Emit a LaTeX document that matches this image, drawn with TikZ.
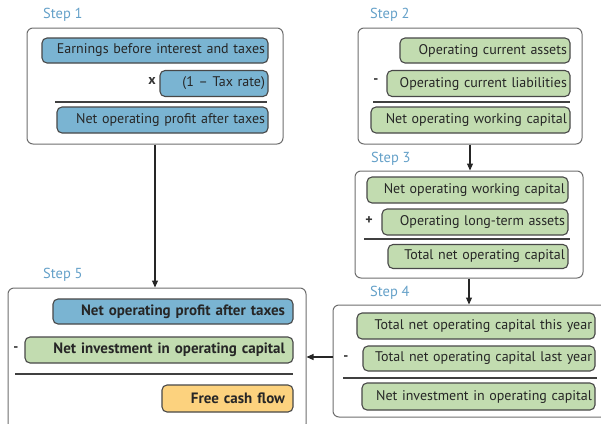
\documentclass[tikz,border=0pt]{standalone}
\usepackage{fontspec}
\setmainfont{PT Sans}
\usetikzlibrary{arrows.meta,calc}
\definecolor{pblue}{RGB}{122,180,210}
\definecolor{pgreen}{RGB}{194,220,176}
\definecolor{porange}{RGB}{252,210,126}
\definecolor{pborder}{RGB}{72,72,72}
\definecolor{boxborder}{RGB}{110,110,110}
\definecolor{steplbl}{RGB}{100,160,200}
\tikzset{
  pill/.style={draw=pborder, line width=1.1pt, rounded corners=5pt, inner xsep=3pt, inner ysep=0pt,
    minimum height=25pt, align=right, font=\fontsize{14}{16}\selectfont, text=black!85},
  boldpill/.style={pill, inner xsep=8pt, font=\fontsize{15}{17}\selectfont\bfseries},
  stepbox/.style={draw=boxborder, line width=1pt, rounded corners=6pt, fill=white, inner sep=0pt},
  steplabel/.style={anchor=west, inner sep=0pt, text=steplbl, font=\fontsize{14.5}{16}\selectfont},
  oper/.style={inner sep=0pt, font=\fontsize{14}{16}\selectfont\bfseries, text=black!80},
  sepline/.style={draw=black!75, line width=1.6pt},
  arr/.style={draw=black!85, line width=1.1pt, -{Triangle[length=7pt,width=6pt]}}
}
\begin{document}
\begin{tikzpicture}[x=1pt,y=-1pt]
\useasboundingbox (0,0) rectangle (601,423);
\clip (0,0) rectangle (601,423);
% step boxes
\node[stepbox, minimum width=256pt, minimum height=116pt] (b1) at (155,86) {};
\node[stepbox, minimum width=224pt, minimum height=116pt] (b2) at (470,86) {};
\node[stepbox, minimum width=228pt, minimum height=107pt] (b3) at (469,224.5) {};
\node[stepbox, minimum width=277pt, minimum height=112pt] (b4) at (471.5,361) {};
\node[stepbox, minimum width=298pt, minimum height=142pt] (b5) at (157,359) {};
% labels
\node[steplabel] (l1) at (43,15) {Step 1};
\node[steplabel] (l2) at (370,15) {Step 2};
\node[steplabel] (l3) at (371,159) {Step 3};
\node[steplabel] (l4) at (370,293) {Step 4};
\node[steplabel] (l5) at (43,275) {Step 5};
% step 1
\node[pill, fill=pblue, text width=220pt] (e1) at (155,50.5) {\mbox{Earnings before interest and taxes}};
\node[pill, fill=pblue, text width=102pt, minimum height=26pt] (e2) at (214,83.5) {\mbox{(1 -- Tax rate)}};
\node[pill, fill=pblue, text width=205pt, minimum height=26pt] (e3) at (162.5,120) {\mbox{Net operating profit after taxes}};
\node[oper] (o1) at (152,81) {x};
\coordinate (s1a) at (55,102); \coordinate (s1b) at (267,102);
\draw[sepline] (s1a) -- (s1b);
% step 2
\node[pill, fill=pgreen, text width=164pt] (a1) at (485,50.5) {\mbox{Operating current assets}};
\node[pill, fill=pgreen, text width=177pt, minimum height=26pt] (a2) at (478.5,83.5) {\mbox{Operating current liabilities}};
\node[pill, fill=pgreen, text width=193pt, minimum height=26pt] (a3) at (470.5,120) {\mbox{Net operating working capital}};
\node[oper] (o2) at (376,81) {-};
\coordinate (s2a) at (373,102); \coordinate (s2b) at (570,102);
\draw[sepline] (s2a) -- (s2b);
% step 3
\node[pill, fill=pgreen, text width=195pt, minimum height=26pt] (c1) at (467.5,190) {\mbox{Net operating working capital}};
\node[pill, fill=pgreen, text width=180pt, minimum height=26pt] (c2) at (475,222) {\mbox{Operating long-term assets}};
\node[pill, fill=pgreen, text width=174pt, minimum height=24pt] (c3) at (478,256.5) {\mbox{Total net operating capital}};
\node[oper] (o3) at (369,221) {+};
\coordinate (s3a) at (364,239); \coordinate (s3b) at (570,239);
\draw[sepline] (s3a) -- (s3b);
% step 4
\node[pill, fill=pgreen, text width=232pt, minimum height=26pt] (d1) at (476,326) {\mbox{Total net operating capital this year}};
\node[pill, fill=pgreen, text width=226pt] (d2) at (479,358.5) {\mbox{Total net operating capital last year}};
\node[pill, fill=pgreen, text width=227pt, minimum height=27pt] (d3) at (478.5,396.5) {\mbox{Net investment in operating capital}};
\node[oper] (o4) at (346,358) {-};
\coordinate (s4a) at (343,378); \coordinate (s4b) at (597,378);
\draw[sepline] (s4a) -- (s4b);
% step 5
\node[boldpill, fill=pblue, text width=224pt] (f1) at (173,311.5) {\mbox{Net operating profit after taxes}};
\node[boldpill, fill=pgreen, text width=252pt, minimum height=26pt] (f2) at (159,350) {\mbox{Net investment in operating capital}};
\node[boldpill, fill=porange, text width=115pt, minimum height=27pt] (f3) at (227.5,398.5) {\mbox{Free cash flow}};
\node[oper] (o5) at (16,349) {-};
\coordinate (s5a) at (15,374); \coordinate (s5b) at (293,374);
\draw[sepline] (s5a) -- (s5b);
% arrows
\draw[arr] (b1.south) -- (b1.south |- b5.north);
\draw[arr] (b2.south) -- (b2.south |- b3.north);
\draw[arr] (b3.south) -- (b3.south |- b4.north);
\coordinate (a4) at ($(b4.west)+(0,-4)$);
\draw[arr] (a4) -- (a4 -| b5.east);
\end{tikzpicture}
\end{document}
